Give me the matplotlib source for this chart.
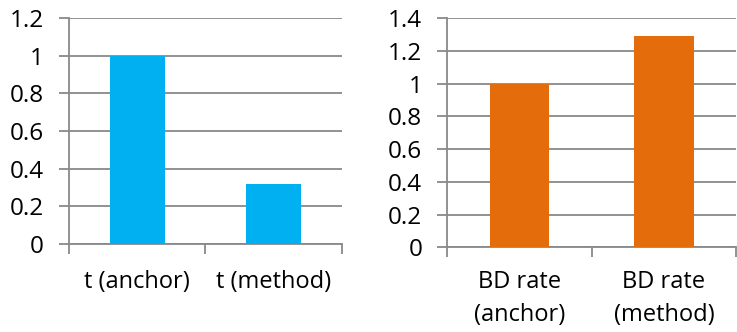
import matplotlib.pyplot as plt

# data
time_labels = ['t (anchor)', 't (method)']
time_values = [1.0, 0.32]
bd_labels = ['BD rate\n(anchor)', 'BD rate\n(method)']
bd_values = [1.0, 1.29]

plt.rcParams['font.family'] = ['Open Sans', 'DejaVu Sans']
grid_col = '#898989'

fig = plt.figure(figsize=(7.37, 3.32), dpi=100)
ax1 = fig.add_axes([0.0936, 0.265, 0.3704, 0.681])
ax2 = fig.add_axes([0.607, 0.255, 0.392, 0.69])


def style(ax, labels, values, color, ymax, width, pad):
    x = range(len(values))
    ax.bar(x, values, width=width, color=color, zorder=3)
    ax.set_xlim(-0.5, len(values) - 0.5)
    ax.set_ylim(0, ymax)
    ax.set_yticks([round(i * 0.2, 1) for i in range(int(round(ymax / 0.2)) + 1)])
    ax.set_yticklabels([f'{v:g}' for v in ax.get_yticks()])
    ax.yaxis.grid(True, color=grid_col, linewidth=1.3, zorder=0)
    ax.set_xticks([i - 0.5 for i in range(len(values) + 1)])
    ax.set_xticklabels([])
    ax.set_xticks(list(x), minor=True)
    ax.set_xticklabels(labels, minor=True, fontsize=17, linespacing=1.5)
    ax.tick_params(axis='x', which='major', length=7, color=grid_col, width=1.3)
    ax.tick_params(axis='x', which='minor', length=0, pad=pad)
    ax.tick_params(axis='y', length=7, color=grid_col, width=1.3, labelsize=17.5, pad=11)
    for s in ['top', 'right']:
        ax.spines[s].set_visible(False)
    for s in ['left', 'bottom']:
        ax.spines[s].set_color(grid_col)
        ax.spines[s].set_linewidth(1.3)


style(ax1, time_labels, time_values, '#00B0F0', 1.2, 0.4, 19)
style(ax2, bd_labels, bd_values, '#E46C0A', 1.4, 0.41, 16)

fig.savefig('out.png', dpi=100)
